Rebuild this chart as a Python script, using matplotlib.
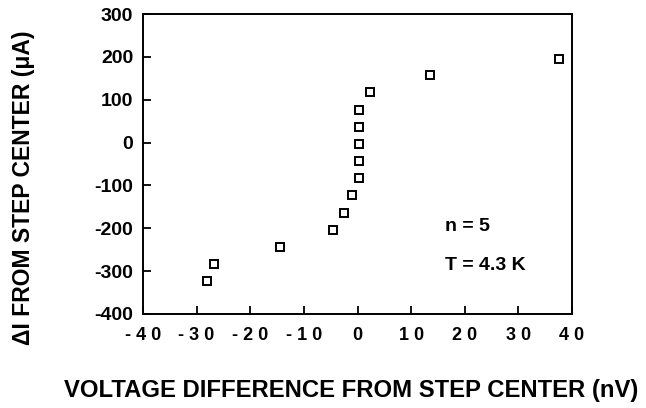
import matplotlib
matplotlib.use("Agg")
import matplotlib.pyplot as plt
from matplotlib.ticker import FuncFormatter

voltage_nV = [-28.0, -26.8, -14.5, -4.6, -2.5, -1.0, 0.2, 0.2, 0.2, 0.2, 0.2, 2.3, 13.6, 37.6]
delta_I_uA = [-323, -283, -243, -204, -164, -123, -83, -44, -4, 36, 77, 117, 158, 196]
x_ticks = [-40, -30, -20, -10, 0, 10, 20, 30, 40]
y_ticks = [-400, -300, -200, -100, 0, 100, 200, 300]
annotations = ["n = 5", "T = 4.3 K"]

plt.rcParams['font.family'] = ['Liberation Sans', 'DejaVu Sans']
plt.rcParams['axes.unicode_minus'] = False

fig = plt.figure(figsize=(6.46, 4.08), dpi=100)
ax = fig.add_axes([143/646, 1 - 314/408, (572-143)/646, 300/408])

ax.plot(voltage_nV, delta_I_uA, linestyle='none', marker='s', markersize=6.3,
        markerfacecolor='white', markeredgecolor='black', markeredgewidth=1.4)

ax.set_xlim(-40, 40)
ax.set_ylim(-400, 300)
ax.set_xticks(x_ticks)
ax.set_yticks(y_ticks)
ax.xaxis.set_major_formatter(FuncFormatter(lambda v, p: " ".join(str(int(v)))))
ax.tick_params(axis='x', direction='in', length=6, width=1.3, pad=9, labelsize=13)
ax.tick_params(axis='y', direction='in', length=6, width=1.3, pad=7, labelsize=14)
for lab in ax.get_xticklabels() + ax.get_yticklabels():
    lab.set_fontweight('bold')
for s in ax.spines.values():
    s.set_linewidth(1.4)

ax.text(16.4, -196, annotations[0], fontsize=14, fontweight='bold', va='center', ha='left')
ax.text(16.4, -286, annotations[1], fontsize=14, fontweight='bold', va='center', ha='left')

fig.text(351/646, 1 - 390/408, "VOLTAGE DIFFERENCE FROM STEP CENTER (nV)",
         fontsize=17.2, fontweight='bold', ha='center', va='center')
fig.text(24/646, 1 - 188/408, "ΔI FROM STEP CENTER (μA)",
         fontsize=16.5, fontweight='bold', ha='center', va='center', rotation=90)

fig.savefig("out.png", dpi=100)
